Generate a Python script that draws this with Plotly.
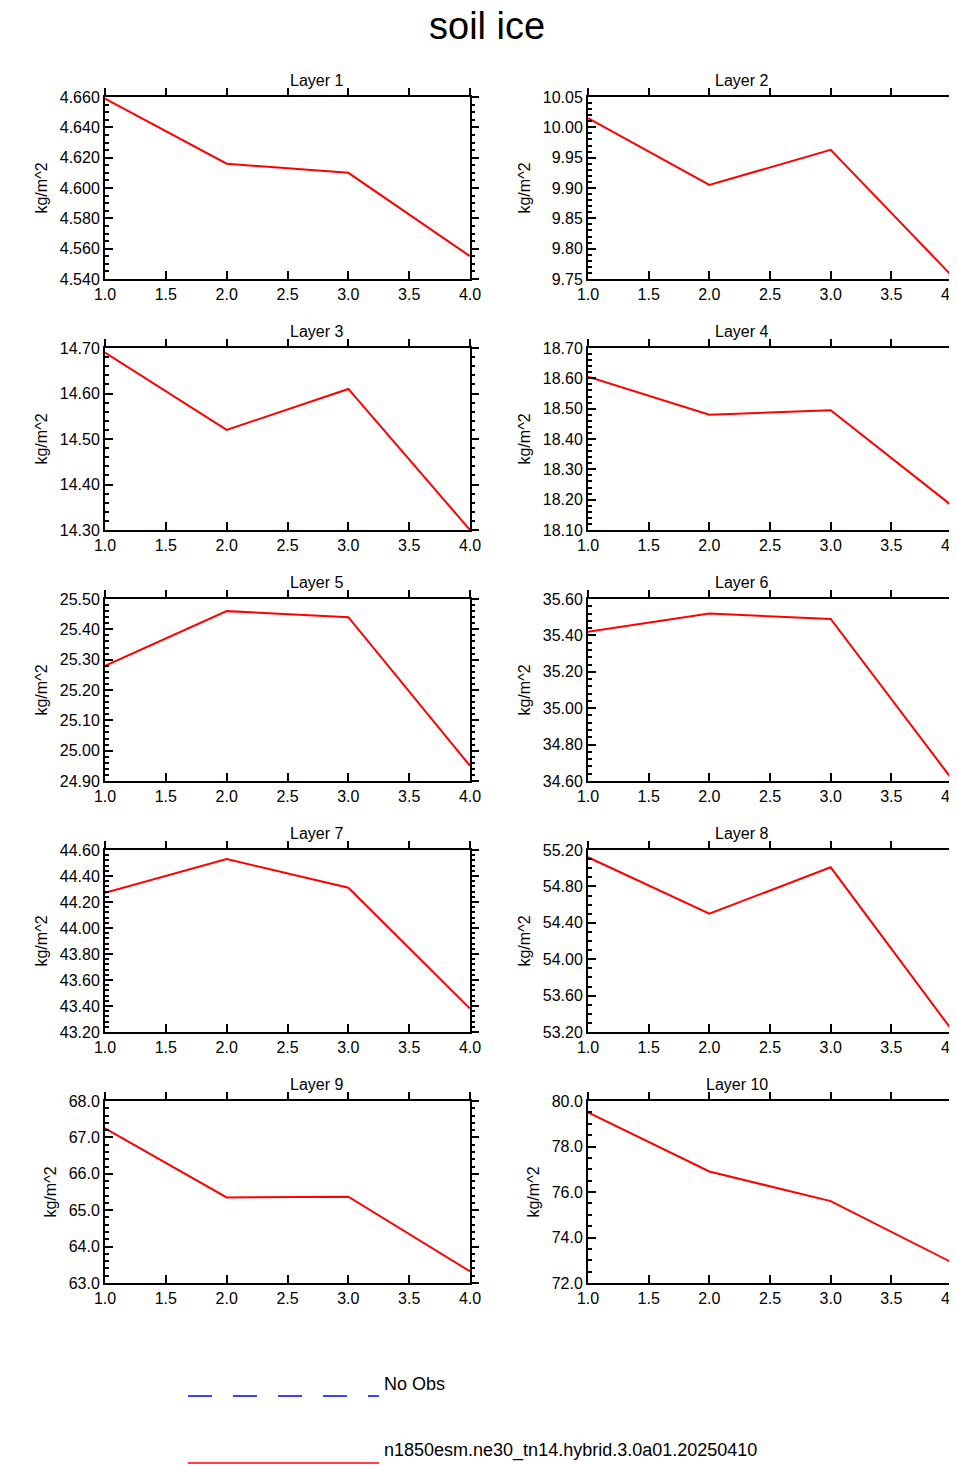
import plotly.graph_objects as go

x = [1, 2, 3, 4]
layers = ["Layer 1","Layer 2","Layer 3","Layer 4","Layer 5","Layer 6","Layer 7","Layer 8","Layer 9","Layer 10"]
values = [
    [4.659, 4.616, 4.610, 4.555],
    [10.015, 9.905, 9.963, 9.755],
    [14.69, 14.52, 14.61, 14.30],
    [18.605, 18.48, 18.495, 18.18],
    [25.28, 25.46, 25.44, 24.95],
    [35.42, 35.52, 35.49, 34.61],
    [44.27, 44.53, 44.31, 43.38],
    [55.12, 54.50, 55.01, 53.22],
    [67.25, 65.35, 65.37, 63.32],
    [79.5, 76.9, 75.6, 72.9],
]
yranges = [(4.54,4.66),(9.75,10.05),(14.30,14.70),(18.10,18.70),(24.90,25.50),
           (34.60,35.60),(43.20,44.60),(53.20,55.20),(63.0,68.0),(72.0,80.0)]
ysteps = [0.02,0.05,0.1,0.1,0.1,0.2,0.2,0.4,1.0,2.0]
yfmts = [".3f",".2f",".2f",".2f",".2f",".2f",".2f",".2f",".1f",".1f"]
yminor = [0.005,0.01,0.02,0.02,0.02,0.04,0.04,0.1,0.2,0.5]

W, H = 957, 1466
xl = [(97, 462), (580, 944)]
rows = [(89, 271), (340, 522), (591, 773), (842, 1024), (1093, 1275)]

fig = go.Figure()
ann = []
font = dict(family="Liberation Sans, Arial", color="black")
for i in range(10):
    r, c = divmod(i, 2)
    n = i + 1
    m = n + 10
    xa = "x" if n == 1 else f"x{n}"
    ya = "y" if n == 1 else f"y{n}"
    y0, y1 = yranges[i]
    fig.add_trace(go.Scatter(x=x, y=values[i], mode="lines", line=dict(color="red", width=2),
                             xaxis=xa, yaxis=ya, showlegend=False, cliponaxis=False))
    fig.add_trace(go.Scatter(x=[1], y=[y0], mode="markers", marker=dict(opacity=0),
                             xaxis=f"x{m}", yaxis=f"y{m}", showlegend=False, hoverinfo="skip"))
    dx = [xl[c][0]/W, xl[c][1]/W]
    dy = [1 - rows[r][1]/H, 1 - rows[r][0]/H]
    common = dict(showgrid=False, zeroline=False, showline=True, linecolor="black", linewidth=2,
                  ticks="inside", tickwidth=1.5, tickcolor="black", automargin=False,
                  tickfont=dict(size=16, **font))
    fig.layout[f"xaxis{'' if n==1 else n}"] = dict(domain=dx, anchor=ya, range=[1, 4],
        tick0=1, dtick=0.5, tickformat=".1f", ticklen=8, mirror=True, **common)
    fig.layout[f"yaxis{'' if n==1 else n}"] = dict(domain=dy, anchor=xa, range=[y0, y1],
        tick0=y0, dtick=ysteps[i], tickformat=yfmts[i], ticklen=8, mirror=True,
        minor=dict(ticks="inside", dtick=yminor[i], ticklen=4, tickcolor="black"),
        title=dict(text="kg/m^2", font=dict(size=16, **font), standoff=8), **common)
    outer = dict(showgrid=False, zeroline=False, showline=False, ticks="outside", tickwidth=1.5,
                 tickcolor="black", showticklabels=False, automargin=False, ticklen=8)
    fig.layout[f"xaxis{m}"] = dict(overlaying=xa, side="top", anchor=f"y{m}", range=[1, 4],
                                   tick0=1, dtick=0.5, **outer)
    fig.layout[f"yaxis{m}"] = dict(overlaying=ya, side="right", anchor=f"x{m}", range=[y0, y1],
                                   tick0=y0, dtick=ysteps[i],
                                   minor=dict(ticks="outside", dtick=yminor[i], ticklen=4, tickcolor="black"),
                                   **outer)
    ann.append(dict(text=layers[i], x=(dx[0]+dx[1])/2, y=dy[1], xref="paper", yref="paper",
                    yanchor="bottom", showarrow=False, yshift=6, font=dict(size=16, **font)))

ann.append(dict(text="soil ice", x=0.5, y=1-18/H, xref="paper", yref="paper", yanchor="middle",
                showarrow=False, font=dict(size=38, **font)))
ann.append(dict(text="No Obs", x=374/W, y=1-1388/H, xref="paper", yref="paper", xanchor="left",
                showarrow=False, font=dict(size=18, **font)))
ann.append(dict(text="n1850esm.ne30_tn14.hybrid.3.0a01.20250410", x=374/W, y=1-1455/H,
                xref="paper", yref="paper", xanchor="left", showarrow=False, font=dict(size=18, **font)))
shapes = [
    dict(type="line", xref="paper", yref="paper", x0=180/W, x1=371/W, y0=1-1388/H, y1=1-1388/H,
         line=dict(color="blue", width=1.5, dash="24px,21px")),
    dict(type="line", xref="paper", yref="paper", x0=180/W, x1=371/W, y0=1-1455/H, y1=1-1455/H,
         line=dict(color="red", width=1.5)),
]
fig.update_layout(width=W, height=H, margin=dict(l=0, r=0, t=0, b=0), plot_bgcolor="white",
                  paper_bgcolor="white", annotations=ann, shapes=shapes)
fig.write_html("out.html")
